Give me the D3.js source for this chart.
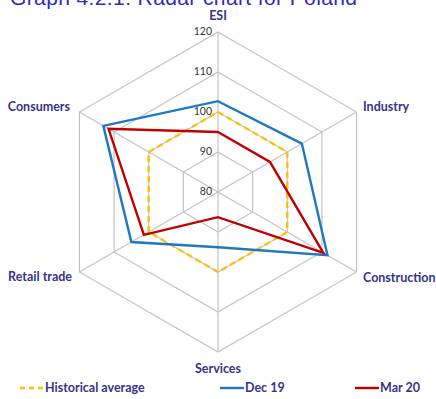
<!DOCTYPE html>
<html>
<head>
<meta charset="utf-8">
<script src="https://cdn.jsdelivr.net/npm/d3@7/dist/d3.min.js"></script>
<style>
  html, body { margin: 0; padding: 0; background: #fff; }
  svg { display: block; }
</style>
</head>
<body>
<svg id="chart" width="436" height="399"></svg>
<script>
// Business survey indicators for Poland
const axes = ["ESI", "Industry", "Construction", "Services", "Retail trade", "Consumers"];
const historicalAverage = [100, 100, 100, 100, 100, 100];
const dec19 = [102.7, 104.2, 111.6, 93.8, 105.0, 113.1];
const mar20 = [95.0, 95.0, 110.4, 86.3, 101.4, 111.6];
const ticks = [80, 90, 100, 110, 120];
const seriesNames = ["Historical average", "Dec 19", "Mar 20"];

const svg = d3.select("#chart");
const cx = 218, cy = 192, R = 160;
const labelColor = "#34348c";
const font = "Lato, 'Open Sans', sans-serif";

const r = d3.scaleLinear().domain([80, 120]).range([0, R]);
const angle = d3.scalePoint().domain(axes).range([0, 2 * Math.PI * 5 / 6]);

const series = [
  { name: seriesNames[0], values: historicalAverage, color: "#ffc000", dash: "6,4" },
  { name: seriesNames[1], values: dec19, color: "#1f78c1", dash: null },
  { name: seriesNames[2], values: mar20, color: "#c00000", dash: null }
];

// Title (runs off the top edge of the page)
svg.append("text")
  .attr("x", 10).attr("y", 5)
  .attr("font-family", "'Liberation Sans', Arial, sans-serif")
  .attr("font-size", 21)
  .attr("fill", "#2b2bc6")
  .attr("textLength", 347)
  .text("Graph 4.2.1: Radar chart for Poland");

const g = svg.append("g").attr("transform", `translate(${cx},${cy})`);

const radial = d3.lineRadial().curve(d3.curveLinearClosed);

// Grid rings
ticks.slice(1).forEach(t => {
  g.append("path")
    .attr("d", radial(axes.map(a => [angle(a), r(t)])))
    .attr("fill", "none").attr("stroke", "#c3c3c3").attr("stroke-width", 1.2);
});

// Spokes
axes.forEach(a => {
  const th = angle(a);
  g.append("line")
    .attr("x1", 0).attr("y1", 0)
    .attr("x2", R * Math.sin(th)).attr("y2", -R * Math.cos(th))
    .attr("stroke", "#c3c3c3").attr("stroke-width", 1.2);
});

// Tick labels along ESI axis
ticks.forEach(t => {
  g.append("text")
    .attr("x", -6).attr("y", -r(t) + 3)
    .attr("text-anchor", "end")
    .attr("font-family", font).attr("font-size", 10.5)
    .attr("fill", "#333")
    .text(t);
});

// Series
series.forEach(s => {
  g.append("path")
    .attr("d", radial(axes.map((a, i) => [angle(a), r(s.values[i])])))
    .attr("fill", "none")
    .attr("stroke", s.color)
    .attr("stroke-width", 2.4)
    .attr("stroke-linejoin", "miter")
    .attr("stroke-dasharray", s.dash);
});

// Axis labels
const labelPos = {
  "ESI": { dx: 0, dy: -176, anchor: "middle" },
  "Industry": { dx: 145, dy: -85, anchor: "start" },
  "Construction": { dx: 145, dy: 86, anchor: "start" },
  "Services": { dx: 0, dy: 177, anchor: "middle" },
  "Retail trade": { dx: -146, dy: 85, anchor: "end" },
  "Consumers": { dx: -148, dy: -85, anchor: "end" }
};
axes.forEach(a => {
  const p = labelPos[a];
  g.append("text")
    .attr("x", p.dx).attr("y", p.dy)
    .attr("dy", "0.35em")
    .attr("text-anchor", p.anchor)
    .attr("font-family", font).attr("font-weight", "bold").attr("font-size", 12.5)
    .attr("fill", labelColor)
    .text(a);
});

// Legend
const legendX = [20, 220, 355];
const legend = svg.append("g").attr("transform", "translate(0,388)");
series.forEach((s, i) => {
  legend.append("line")
    .attr("x1", legendX[i]).attr("x2", legendX[i] + 24)
    .attr("y1", 0).attr("y2", 0)
    .attr("stroke", s.color).attr("stroke-width", 2.4)
    .attr("stroke-dasharray", s.dash ? "5,4" : null);
  legend.append("text")
    .attr("x", legendX[i] + 25).attr("y", 0).attr("dy", "0.35em")
    .attr("font-family", font).attr("font-weight", "bold").attr("font-size", 12.5)
    .attr("fill", labelColor)
    .text(s.name);
});
</script>
</body>
</html>
